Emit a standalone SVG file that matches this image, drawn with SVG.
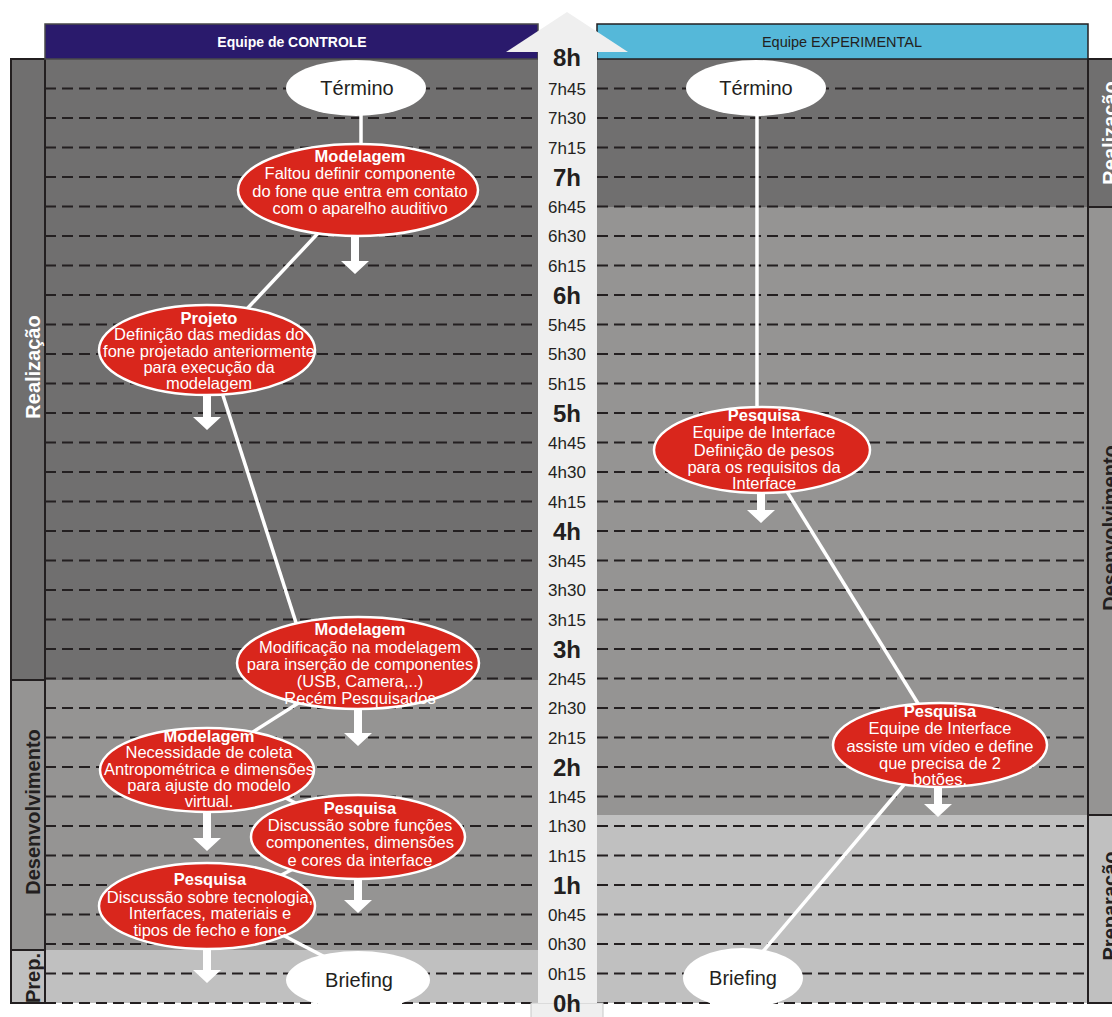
<svg xmlns="http://www.w3.org/2000/svg" width="1112" height="1017" viewBox="0 0 1112 1017">
  <defs>
    <style>
      text { font-family: "Liberation Sans", Arial, sans-serif; }
      .dash { stroke: #231f20; stroke-width: 2; stroke-dasharray: 11 6; fill: none; }
      .edge { stroke: #231f20; stroke-width: 2; }
      .tq { font-size: 17px; fill: #231f20; text-anchor: middle; }
      .th { font-size: 24px; font-weight: bold; fill: #231f20; text-anchor: middle; }
      .act { fill: #d9261c; stroke: #ffffff; stroke-width: 2.5; }
      .term { fill: #ffffff; }
      .t { font-size: 16.5px; fill: #ffffff; text-anchor: middle; }
      .tb { font-size: 16.5px; font-weight: bold; fill: #ffffff; text-anchor: middle; }
      .tt { font-size: 20px; fill: #231f20; text-anchor: middle; }
      .conn { stroke: #ffffff; stroke-width: 3.5; fill: none; }
      .phase { font-size: 20px; font-weight: bold; text-anchor: middle; }
    </style>
    <!-- white block arrow pointing down, origin at the tip -->
    <path id="down" d="M-4,-38 H4 V-13 H14 L0,0 L-14,-13 H-4 Z" fill="#ffffff"/>
  </defs>

  <rect width="1112" height="1017" fill="#ffffff"/>

  <!-- panel backgrounds -->
  <g id="panels">
    <rect x="45" y="59" width="493" height="621" fill="#706f6f"/>
    <rect x="45" y="680" width="493" height="270" fill="#959493"/>
    <rect x="45" y="950" width="493" height="53" fill="#c0c0c0"/>
    <rect x="597" y="59" width="491" height="148" fill="#706f6f"/>
    <rect x="597" y="207" width="491" height="608" fill="#959493"/>
    <rect x="597" y="815" width="491" height="188" fill="#c0c0c0"/>
  </g>

  <!-- phase strips -->
  <g id="phases-left">
    <rect x="11" y="59" width="34" height="621" fill="#706f6f" class="edge"/>
    <rect x="11" y="680" width="34" height="270" fill="#959493" class="edge"/>
    <rect x="11" y="950" width="34" height="53" fill="#c0c0c0" class="edge"/>
    <text class="phase" fill="#ffffff" transform="translate(40,367) rotate(-90)">Realização</text>
    <text class="phase" fill="#231f20" transform="translate(40,812) rotate(-90)">Desenvolvimento</text>
    <text class="phase" fill="#231f20" transform="translate(40,978) rotate(-90)">Prep.</text>
  </g>
  <g id="phases-right">
    <rect x="1088" y="59" width="30" height="148" fill="#706f6f" class="edge"/>
    <rect x="1088" y="207" width="30" height="608" fill="#959493" class="edge"/>
    <rect x="1088" y="815" width="30" height="188" fill="#c0c0c0" class="edge"/>
    <text class="phase" fill="#ffffff" transform="translate(1117,133) rotate(-90)">Realização</text>
    <text class="phase" fill="#231f20" transform="translate(1117,528) rotate(-90)">Desenvolvimento</text>
    <text class="phase" fill="#231f20" transform="translate(1117,906) rotate(-90)">Preparação</text>
  </g>

  <!-- quarter-hour grid -->
  <g id="grid">
    <path class="dash" d="M45,88.5H538M597,88.5H1088M45,118H538M597,118H1088M45,147.5H538M597,147.5H1088M45,177H538M597,177H1088M45,206.5H538M597,206.5H1088M45,236H538M597,236H1088M45,265.5H538M597,265.5H1088M45,295H538M597,295H1088M45,324.5H538M597,324.5H1088M45,354H538M597,354H1088M45,383.5H538M597,383.5H1088M45,413H538M597,413H1088M45,442.5H538M597,442.5H1088M45,472H538M597,472H1088M45,501.5H538M597,501.5H1088M45,531H538M597,531H1088M45,560.5H538M597,560.5H1088M45,590H538M597,590H1088M45,619.5H538M597,619.5H1088M45,649H538M597,649H1088M45,678.5H538M597,678.5H1088M45,708H538M597,708H1088M45,737.5H538M597,737.5H1088M45,767H538M597,767H1088M45,796.5H538M597,796.5H1088M45,826H538M597,826H1088M45,855.5H538M597,855.5H1088M45,885H538M597,885H1088M45,914.5H538M597,914.5H1088M45,944H538M597,944H1088M45,973.5H538M597,973.5H1088M45,1003H538M597,1003H1088"/>
  </g>

  <!-- team headers -->
  <g id="header-controle">
    <rect x="45" y="24" width="493" height="35" fill="#2a1a6c" stroke="#4a4a4a" stroke-width="1.5"/>
    <text x="292" y="46.5" font-size="14" font-weight="bold" fill="#ffffff" text-anchor="middle">Equipe de CONTROLE</text>
  </g>
  <g id="header-experimental">
    <rect x="597" y="24" width="491" height="35" fill="#55b8d9" stroke="#231f20" stroke-width="1.5"/>
    <text x="842" y="46.5" font-size="14.5" fill="#231f20" text-anchor="middle">Equipe EXPERIMENTAL</text>
  </g>

  <!-- time axis -->
  <g id="time-axis">
    <rect x="531" y="1003" width="72" height="16" fill="#efefef" stroke="#c8c8c8" stroke-width="1"/>
    <rect x="538" y="50" width="59" height="953" fill="#efefef"/>
    <polygon points="567,12 628,52 506,52" fill="#efefef"/>
    <text class="th" x="567" y="65.5">8h</text>
    <text class="tq" x="567" y="94.5">7h45</text>
    <text class="tq" x="567" y="124">7h30</text>
    <text class="tq" x="567" y="153.5">7h15</text>
    <text class="th" x="567" y="185.5">7h</text>
    <text class="tq" x="567" y="212.5">6h45</text>
    <text class="tq" x="567" y="242">6h30</text>
    <text class="tq" x="567" y="271.5">6h15</text>
    <text class="th" x="567" y="303.5">6h</text>
    <text class="tq" x="567" y="330.5">5h45</text>
    <text class="tq" x="567" y="360">5h30</text>
    <text class="tq" x="567" y="389.5">5h15</text>
    <text class="th" x="567" y="421.5">5h</text>
    <text class="tq" x="567" y="448.5">4h45</text>
    <text class="tq" x="567" y="478">4h30</text>
    <text class="tq" x="567" y="507.5">4h15</text>
    <text class="th" x="567" y="539.5">4h</text>
    <text class="tq" x="567" y="566.5">3h45</text>
    <text class="tq" x="567" y="596">3h30</text>
    <text class="tq" x="567" y="625.5">3h15</text>
    <text class="th" x="567" y="657.5">3h</text>
    <text class="tq" x="567" y="684.5">2h45</text>
    <text class="tq" x="567" y="714">2h30</text>
    <text class="tq" x="567" y="743.5">2h15</text>
    <text class="th" x="567" y="775.5">2h</text>
    <text class="tq" x="567" y="802.5">1h45</text>
    <text class="tq" x="567" y="832">1h30</text>
    <text class="tq" x="567" y="861.5">1h15</text>
    <text class="th" x="567" y="893.5">1h</text>
    <text class="tq" x="567" y="920.5">0h45</text>
    <text class="tq" x="567" y="950">0h30</text>
    <text class="tq" x="567" y="979.5">0h15</text>
    <text class="th" x="567" y="1011.5">0h</text>
  </g>

  <!-- connectors between activities -->
  <g id="connectors">
    <path class="conn" d="M361,100V160"/>
    <path class="conn" d="M322,229L244,312"/>
    <path class="conn" d="M218,380L299,632"/>
    <path class="conn" d="M300,702L245,737"/>
    <path class="conn" d="M280,795L305,808"/>
    <path class="conn" d="M295,868L268,882"/>
    <path class="conn" d="M275,931L325,957"/>
    <path class="conn" d="M757,100V420"/>
    <path class="conn" d="M783,485L922,710"/>
    <path class="conn" d="M908,780L760,955"/>
    <!-- continuation arrows -->
    <use href="#down" x="355" y="274"/>
    <use href="#down" x="207" y="430"/>
    <use href="#down" x="358" y="746"/>
    <use href="#down" x="207" y="851"/>
    <use href="#down" x="358" y="913"/>
    <use href="#down" x="207" y="983"/>
    <use href="#down" x="761" y="523"/>
    <use href="#down" x="938" y="817"/>
  </g>

  <!-- CONTROLE team activities -->
  <g id="c-termino">
    <ellipse class="term" cx="356" cy="88" rx="70" ry="28"/>
    <text class="tt" x="357" y="95">Término</text>
  </g>
  <g id="c-modelagem-1">
    <ellipse class="act" cx="358" cy="190" rx="120" ry="46"/>
    <text class="tb" x="360" y="162">Modelagem</text>
    <text class="t" x="360" y="179">Faltou definir componente</text>
    <text class="t" x="360" y="197">do fone que entra em contato</text>
    <text class="t" x="360" y="214">com o aparelho auditivo</text>
  </g>
  <g id="c-projeto">
    <ellipse class="act" cx="207" cy="350" rx="108" ry="45"/>
    <text class="tb" x="209" y="324">Projeto</text>
    <text class="t" x="209" y="340">Definição das medidas do</text>
    <text class="t" x="209" y="357">fone projetado anteriormente</text>
    <text class="t" x="209" y="373">para execução da</text>
    <text class="t" x="209" y="389">modelagem</text>
  </g>
  <g id="c-modelagem-2">
    <ellipse class="act" cx="358" cy="663" rx="121" ry="46"/>
    <text class="tb" x="360" y="635">Modelagem</text>
    <text class="t" x="360" y="653">Modificação na modelagem</text>
    <text class="t" x="360" y="670">para inserção de componentes</text>
    <text class="t" x="360" y="687">(USB, Camera,..)</text>
    <text class="t" x="360" y="704">Recém Pesquisados</text>
  </g>
  <g id="c-modelagem-3">
    <ellipse class="act" cx="207" cy="770" rx="107" ry="42"/>
    <text class="tb" x="209" y="742">Modelagem</text>
    <text class="t" x="209" y="758">Necessidade de coleta</text>
    <text class="t" x="209" y="775">Antropométrica e dimensões</text>
    <text class="t" x="209" y="791">para ajuste do modelo</text>
    <text class="t" x="209" y="807">virtual.</text>
  </g>
  <g id="c-pesquisa-2">
    <ellipse class="act" cx="358" cy="837" rx="107" ry="42"/>
    <text class="tb" x="360" y="814">Pesquisa</text>
    <text class="t" x="360" y="831">Discussão sobre funções</text>
    <text class="t" x="360" y="848">componentes, dimensões</text>
    <text class="t" x="360" y="866">e cores da interface</text>
  </g>
  <g id="c-pesquisa-1">
    <ellipse class="act" cx="207" cy="906" rx="108" ry="43"/>
    <text class="tb" x="210" y="885">Pesquisa</text>
    <text class="t" x="210" y="903">Discussão sobre tecnologia,</text>
    <text class="t" x="210" y="919">Interfaces, materiais e</text>
    <text class="t" x="210" y="936">tipos de fecho e fone</text>
  </g>
  <g id="c-briefing">
    <ellipse class="term" cx="358" cy="980" rx="72" ry="29"/>
    <text class="tt" x="359" y="987">Briefing</text>
  </g>

  <!-- EXPERIMENTAL team activities -->
  <g id="e-termino">
    <ellipse class="term" cx="756" cy="88" rx="70" ry="28"/>
    <text class="tt" x="756" y="95">Término</text>
  </g>
  <g id="e-pesquisa-2">
    <ellipse class="act" cx="762" cy="450" rx="108" ry="43"/>
    <text class="tb" x="764" y="421">Pesquisa</text>
    <text class="t" x="764" y="438">Equipe de Interface</text>
    <text class="t" x="764" y="456">Definição de pesos</text>
    <text class="t" x="764" y="473">para os requisitos da</text>
    <text class="t" x="764" y="489">Interface</text>
  </g>
  <g id="e-pesquisa-1">
    <ellipse class="act" cx="940" cy="745" rx="107" ry="42"/>
    <text class="tb" x="940" y="717">Pesquisa</text>
    <text class="t" x="940" y="734">Equipe de Interface</text>
    <text class="t" x="940" y="752">assiste um vídeo e define</text>
    <text class="t" x="940" y="769">que precisa de 2</text>
    <text class="t" x="940" y="785">botões.</text>
  </g>
  <g id="e-briefing">
    <ellipse class="term" cx="743" cy="978" rx="60" ry="30"/>
    <text class="tt" x="743" y="985">Briefing</text>
  </g>
</svg>
